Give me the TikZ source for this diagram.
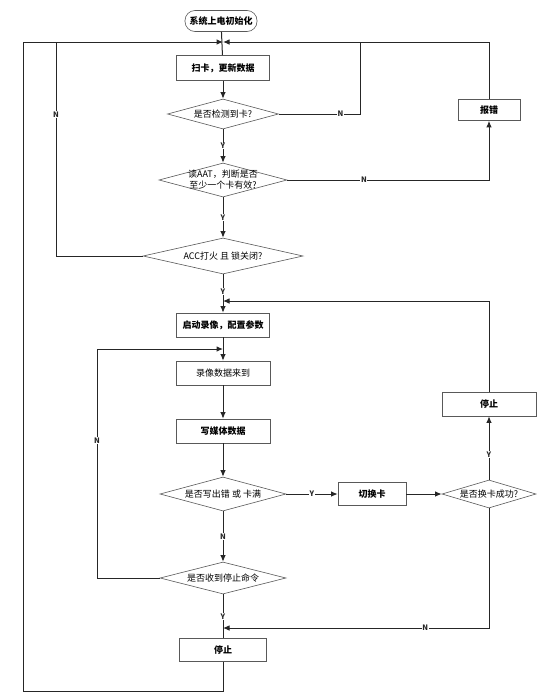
\documentclass[tikz,border=0pt]{standalone}
\usepackage{fontspec}
\newfontfamily\cjk{Noto Sans CJK SC}
\usetikzlibrary{arrows.meta,shapes.geometric}

\begin{document}
\begin{tikzpicture}[x=1pt,y=-1pt,
  every node/.style={font=\cjk\fontsize{9}{11}\selectfont},
  proc/.style={draw=black!65,line width=0.6pt,minimum height=24,inner sep=0pt,font=\cjk\bfseries\fontsize{9}{11}\selectfont},
  decision/.style={diamond,draw=black!65,line width=0.6pt,inner sep=0pt},
  dtext/.style={align=center,inner sep=0pt,font=\cjk\fontsize{9}{11}\selectfont},
  yn/.style={font=\cjk\bfseries\fontsize{7.5}{8}\selectfont,fill=white,inner sep=0.6pt},
  flow/.style={line width=1pt,black!85},
  arr/.style={flow,-{Latex[length=6.5pt,width=5.5pt]}}]
\fill[white] (0,0) rectangle (549,699);
\useasboundingbox (0,0) rectangle (549,699);
% main column
\node[proc,rounded corners=10pt,minimum width=72,minimum height=21] (init) at (221,21) {系统上电初始化};
\coordinate (jt) at (223,42);
\node[proc,minimum width=93,minimum height=25] (scan) at (223,68) {扫卡，更新数据};
\node[decision,minimum width=111,minimum height=30,label={[dtext]center:是否检测到卡?}] (det) at (223,114) {};
\node[decision,minimum width=128,minimum height=34,label={[dtext]center:{读AAT，判断是否\\至少一个卡有效?}}] (aat) at (223,180) {};
\node[decision,minimum width=160,minimum height=36,label={[dtext]center:ACC打火 且 锁关闭?}] (acc) at (223,256) {};
\node[proc,minimum width=62,minimum height=21] (err) at (489,110) {报错};
\coordinate (jrec) at (223,301);
\node[proc,minimum width=93] (rec) at (223,325) {启动录像，配置参数};
\coordinate (jdata) at (223,349);
\node[proc,minimum width=94,font=\cjk\fontsize{9}{11}\selectfont] (data) at (223,373) {录像数据来到};
\node[proc,minimum width=94] (wr) at (223,431) {写媒体数据};
\node[decision,minimum width=126,minimum height=34,label={[dtext]center:是否写出错 或 卡满}] (full) at (223,494) {};
\node[proc,minimum width=68,minimum height=23] (sw) at (372,494) {切换卡};
\node[decision,minimum width=94,minimum height=28,label={[dtext]center:是否换卡成功?}] (ok) at (489,494) {};
\node[proc,minimum width=94] (stopr) at (489,404) {停止};
\node[decision,minimum width=126,minimum height=32,label={[dtext]center:是否收到停止命令}] (cmd) at (223,578) {};
\coordinate (jstop) at (223,628);
\node[proc,minimum width=87,minimum height=23] (stopb) at (223,650) {停止};
% corners of the loops
\coordinate (lt) at (56,42);
\coordinate (rt) at (360,42);
\coordinate (lp) at (97,349);
\coordinate (lb) at (23,691);
% straight flow
\draw[flow] (init) -- (scan);
\draw[arr] (scan) -- (det);
\draw[arr] (det) -- node[yn] (y1) {Y} (aat);
\draw[arr] (aat) -- node[yn] (y2) {Y} (acc);
\draw[arr] (acc) -- node[yn,pos=0.45] (y3) {Y} (rec);
\draw[arr] (rec) -- (data);
\draw[arr] (data) -- (wr);
\draw[arr] (wr) -- (full);
\draw[arr] (full) -- node[yn] (n5) {N} (cmd);
\draw[flow] (cmd) -- node[yn] (y6) {Y} (stopb);
\draw[arr] (full) -- node[yn] (y4) {Y} (sw);
\draw[arr] (sw) -- (ok);
\draw[arr] (ok) -- node[yn,pos=0.4] (y5) {Y} (stopr);
% loops
\draw[flow] (det.east) -| node[yn,pos=0.38] (n1) {N} (rt);
\draw[arr] (aat.east) -| node[yn,pos=0.19] (n2) {N} (err.south);
\draw[arr] (err.north) |- (jt);
\draw[flow] (acc.west) -| node[yn,pos=0.83] (n3) {N} (lt);
\draw[arr] (stopb.south) |- (lb) |- (jt);
\draw[arr] (stopr.north) |- (jrec);
\draw[arr] (ok.south) |- node[yn,pos=0.62] (n6) {N} (jstop);
\draw[arr] (cmd.west) -| node[yn,pos=0.8] (n4) {N} (lp) -- (jdata);
\end{tikzpicture}
\end{document}
